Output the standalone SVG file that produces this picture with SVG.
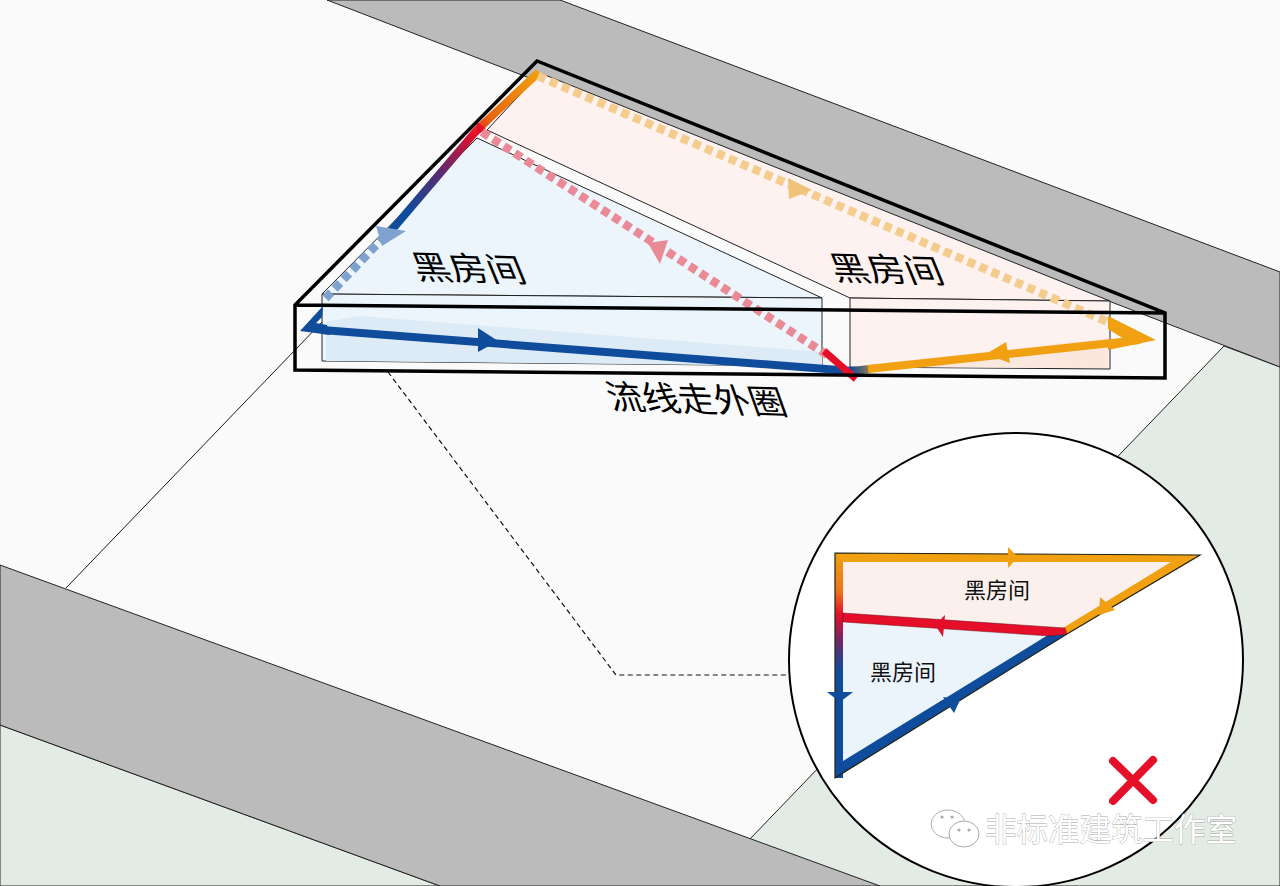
<svg xmlns="http://www.w3.org/2000/svg" width="1280" height="886" viewBox="0 0 1280 886">
<style>
.site{stroke:#1a1a1a;stroke-width:1;fill:none}
.band{fill:#bbbbbb;stroke:#222;stroke-width:1}
.green{fill:#e3ece4;stroke:#222;stroke-width:1}
.frame{fill:none;stroke:#000;stroke-width:3.5;stroke-linejoin:miter}
.label3d{font-family:"Noto Sans CJK SC","Liberation Sans",sans-serif;font-size:37px;fill:#000;font-weight:400}
.label{font-family:"Noto Sans CJK SC","Liberation Sans",sans-serif;font-size:22px;fill:#111}
.mark{font-family:"Noto Sans CJK SC","Liberation Sans",sans-serif;font-size:31.5px;fill:#fff;stroke:#aaa;stroke-width:.8;paint-order:stroke}
.dash{fill:none;stroke-width:8.5;stroke-dasharray:8 5}
.solid{fill:none;stroke-width:8}
</style>
<defs>
<linearGradient id="leftEdge" gradientUnits="userSpaceOnUse" x1="539" y1="72" x2="385" y2="238">
<stop offset="0" stop-color="#f0a010"/><stop offset=".3" stop-color="#e8650f"/><stop offset=".4" stop-color="#e60f2a"/><stop offset=".62" stop-color="#5a2a70"/><stop offset=".85" stop-color="#0f4c9c"/>
</linearGradient>
<linearGradient id="insetLeft" gradientUnits="userSpaceOnUse" x1="0" y1="553" x2="0" y2="690">
<stop offset="0" stop-color="#f0a010"/><stop offset=".28" stop-color="#ec7418"/><stop offset=".45" stop-color="#e60f2a"/><stop offset=".62" stop-color="#7b2460"/><stop offset=".85" stop-color="#0f4c9c"/>
</linearGradient>
<linearGradient id="bottomJoin" gradientUnits="userSpaceOnUse" x1="850" y1="370" x2="885" y2="366">
<stop offset="0" stop-color="#0f4c9c"/><stop offset="1" stop-color="#f0a010"/>
</linearGradient>
</defs>
<rect width="1280" height="886" fill="#fafafa"/>
<g id="site">
<polygon class="green" points="1224,346 1280,367 1280,886 860,886 749,840"/>
<polygon class="green" points="0,725 440,886 0,886"/>
<polygon class="band" points="327,0 560,0 1280,272 1280,367"/>
<polygon class="band" points="0,565 880,886 440,886 0,725"/>
<line class="site" x1="66" y1="588" x2="322" y2="322"/>
</g>
<g id="room-blue">
<polygon points="477,138 822,298 322,294" fill="#ebf5fb" stroke="#222" stroke-width="1"/>
<polygon points="322,294 822,298 822,366 322,361" fill="#ebf5fb" stroke="#222" stroke-width="1"/>
<polygon points="326,322 360,316 822,352 822,366 326,361" fill="#dcebf5"/>
<text class="label3d" transform="matrix(1,.03,.37,.9,418,279)">黑房间</text>
</g>
<g id="room-pink">
<polygon points="540,73 1110,301 850,298 487,130" fill="#fdf2ef" stroke="#222" stroke-width="1"/>
<polygon points="850,298 1110,301 1110,369 850,367" fill="#fdf2ef" stroke="#222" stroke-width="1"/>
<polygon points="852,367 1108,338 1108,368" fill="#fae8df"/>
<text class="label3d" transform="matrix(1,.03,.37,.9,836,280)">黑房间</text>
</g>
<g id="connectors">
<path class="solid" d="M539,72 L477,130 L385,238" stroke="url(#leftEdge)"/>
<polygon points="477,122 486,129 476,136" fill="#e60f2a"/>
<path class="dash" d="M538,76 L1108,322" stroke="#f3cc8e"/>
<polygon points="788,178 812,190 789,199" fill="#f0c27a"/>
<path class="dash" d="M482,132 L832,358" stroke="#e98a96"/>
<polygon points="668,240 648,243 660,264" fill="#e98a96"/>
<path class="dash" d="M385,236 L322,302" stroke="#7fa2cf"/>
<polygon points="376,226 406,231 382,246" fill="#7fa2cf"/>
<polygon points="300,331 323,306 322,317 316,323 327,325 330,335" fill="#0f4c9c"/>
<path class="solid" d="M322,330 L852,371" stroke="#0f4c9c"/>
<polygon points="478,328 498,341 478,352" fill="#0f4c9c"/>
<path class="solid" d="M852,371 L870,369" stroke="url(#bottomJoin)"/>
<path class="solid" d="M868,369 L1140,340" stroke="#f0a010"/>
<polygon points="1108,316 1156,340 1108,350 1108,343 1124,339 1108,329" fill="#f0a010"/>
<polygon points="1006,342 986,354 1010,363" fill="#f0a010"/>
<line x1="824" y1="351" x2="856" y2="379" stroke="#e60f2a" stroke-width="7"/>
</g>
<g id="frame">
<path class="frame" d="M295,305 L537,61 L1165,313 L1165,378 L295,370 Z M295,305 L1165,313"/>
</g>
<text class="label3d" transform="matrix(.96,.03,.33,.92,612,409)">流线走外圈</text>
<g id="leader">
<path d="M388,372 L616,675 L786,675" fill="none" stroke="#111" stroke-width="1.2" stroke-dasharray="5 3.5"/>
</g>
<g id="inset">
<circle cx="1016" cy="660" r="227" fill="#fff" stroke="#000" stroke-width="2"/>
<polygon points="843,562 1173,562 1065,628 843,613" fill="#fcf0ed"/>
<polygon points="843,623 1050,636 843,761" fill="#ecf4fb"/>
<polygon points="835,553 843,553 843,778 835,778" fill="url(#insetLeft)"/>
<polygon points="835,778 843,761 1048,635 1067,634" fill="#0f4c9c"/>
<polygon points="835,553 1200,555 1173,562 843,562" fill="#f0a010"/>
<polygon points="1200,555 1171,562 1063,628 1067,634" fill="#f0a010"/>
<polygon points="835,553 1200,555 1067,634 835,778" fill="none" stroke="#221" stroke-width="1.2" stroke-linejoin="miter"/>
<polygon points="843,613 1065,628 1067,634 1050,636 843,622" fill="#e60f2a" stroke="#60101a" stroke-width=".5"/>
<polygon points="1008,547 1018,557 1008,568" fill="#f0a010"/>
<polygon points="1100,597 1115,610 1099,615" fill="#f0a010"/>
<polygon points="945,615 935,625 943,637" fill="#e60f2a"/>
<polygon points="827,692 853,692 840,702" fill="#0f4c9c"/>
<polygon points="943,697 960,700 954,713" fill="#0f4c9c"/>
<text class="label" x="997" y="598" text-anchor="middle">黑房间</text>
<text class="label" x="903" y="680" text-anchor="middle">黑房间</text>
<g id="cross">
<path d="M1113,761 L1153,800 M1153,760 L1113,801" stroke="#e60f2a" stroke-width="8" stroke-linecap="round" fill="none"/>
</g>
</g>
<g id="watermark">
<ellipse cx="948" cy="824" rx="17" ry="14" fill="#fff" stroke="#aaa" stroke-width="1"/>
<ellipse cx="964" cy="834" rx="15" ry="13" fill="#fff" stroke="#aaa" stroke-width="1"/>
<circle cx="942" cy="817" r="1.6" fill="#aaa"/>
<circle cx="952" cy="817" r="1.6" fill="#aaa"/>
<circle cx="959" cy="830" r="1.6" fill="#aaa"/>
<circle cx="969" cy="830" r="1.6" fill="#aaa"/>
<text class="mark" x="985" y="841">非标准建筑工作室</text>
</g>
</svg>
